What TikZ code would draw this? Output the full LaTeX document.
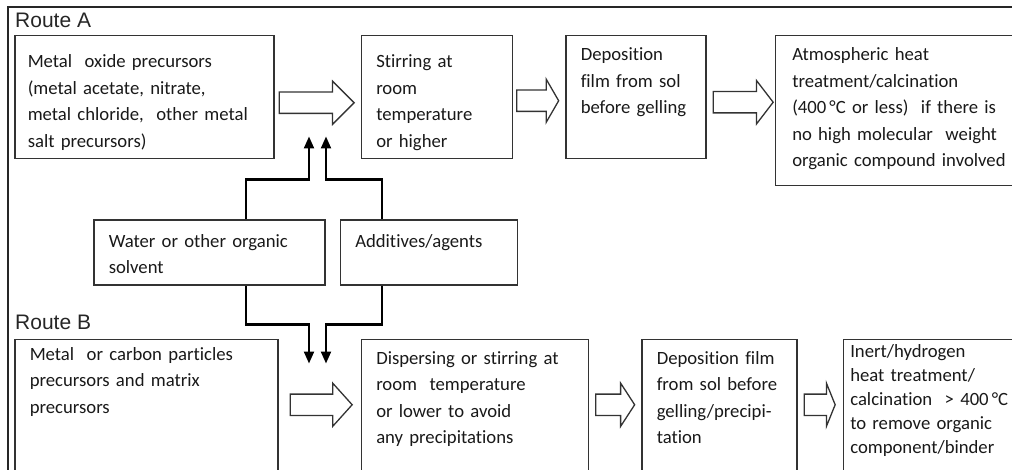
\documentclass[tikz,border=0pt]{standalone}
\usepackage{fontspec}
\setmainfont[Ligatures=NoCommon]{Carlito}
\newfontfamily\routefont{Liberation Sans}
\usepackage{tikz}
\usetikzlibrary{shapes,arrows,arrows.meta,positioning,calc}
\usepackage{xcolor}
\tikzstyle{stepbox} = [rectangle, draw=black!80, line width=1.5pt, anchor=north west, align=left, inner xsep=15pt, inner ysep=4pt, text height=21pt, text=black!90, font=\fontsize{18.7}{26.5}\selectfont]
\tikzstyle{hollow} = [single arrow, draw=black!80, line width=1.3pt, fill=white, inner xsep=0pt, inner ysep=10pt, single arrow head extend=11pt, anchor=west]
\tikzstyle{feed} = [line width=2.2pt, -{Triangle[length=12pt,width=10pt]}]
\tikzstyle{route} = [anchor=west, inner sep=0pt, text=black!85, font=\routefont\fontsize{21}{22}\selectfont]

\begin{document}
\begin{tikzpicture}[x=1pt, y=-1pt]
    \useasboundingbox (0,0) rectangle (1012,470);
    % Frame
    \draw [line width=2pt, black!85] (8,7) rectangle (1040,490);

    % Route A
    \node (routeA) [route] at (15,20) {Route A};
    \node (oxide) [stepbox, inner xsep=13pt, text width=233pt, text height=28pt, text depth=87pt] at (14,35) {Metal\ \ oxide precursors\\(metal acetate, nitrate,\\metal chloride,\ \ other metal\\salt precursors)};
    \node (stirA) [stepbox, right=86pt of oxide.north east, anchor=north west, text width=121pt, text height=28pt, text depth=87pt] {Stirring at\\room\\temperature\\or higher};
    \node (depA) [stepbox, right=52pt of stirA.north east, anchor=north west, text width=110pt, text depth=94pt] {Deposition\\film from sol\\before gelling};
    \node (heatA) [stepbox, right=68pt of depA.north east, anchor=north west, inner xsep=17pt, text width=236pt, text depth=121pt] {Atmospheric heat\\treatment/calcination\\(400\,°C or less)\ \ if there is\\no high molecular\ \ weight\\organic compound involved};

    % Additions
    \node (water) [stepbox, below right=60pt and 79pt of oxide.south west, anchor=north west, text width=201pt, text height=23pt, text depth=34pt] {Water or other organic\\solvent};
    \node (additive) [stepbox, right=14pt of water.north east, anchor=north west, text width=147pt, text height=23pt, text depth=34pt] {Additives/agents};

    % Route B
    \node (routeB) [route] at (15,322) {Route B};
    \node (particle) [stepbox, below=179pt of oxide.south west, anchor=north west, text width=233pt, text height=17pt, text depth=106pt] {Metal\ \ or carbon particles\\precursors and matrix\\precursors};
    \node (disperse) [stepbox, right=82pt of particle.north east, anchor=north west, text width=197pt, text depth=102pt] {Dispersing or stirring at\\room\ \ temperature\\or lower to avoid\\any precipitations};
    \node (depB) [stepbox, right=52pt of disperse.north east, anchor=north west, text width=125pt, text depth=102pt] {Deposition film\\from sol before\\gelling/precipi-\\tation};
    \node (heatB) [stepbox, right=45pt of depB.north east, anchor=north west, inner xsep=7pt, text width=186pt, text height=14pt, text depth=109pt, font=\fontsize{18.7}{24}\selectfont] {Inert/hydrogen\\heat treatment/\\calcination\ \ > 400\,°C\\to remove organic\\component/binder};

    % Hollow arrows
    \node (arrA1) [hollow, minimum height=75pt, single arrow tip angle=90, right=4pt of oxide, yshift=-5.5pt] {};
    \node (arrA2) [hollow, minimum height=42pt, single arrow tip angle=120, right=3pt of stirA, yshift=-3.5pt] {};
    \node (arrA3) [hollow, minimum height=60pt, single arrow tip angle=105, right=6pt of depA, yshift=-5pt] {};
    \node (arrB1) [hollow, minimum height=62pt, single arrow tip angle=96, right=11pt of particle] {};
    \node (arrB2) [hollow, minimum height=39pt, single arrow tip angle=114, right=6pt of disperse] {};
    \node (arrB3) [hollow, minimum height=31pt, single arrow tip angle=136, right=6pt of depB] {};

    % Feed lines
    \coordinate (tipA1) at ($(oxide.south east)!.5!(stirA.south west)+(-8.5,-23)$);
    \coordinate (tipA2) at ($(tipA1)+(17,0)$);
    \coordinate (tipB1) at ($(tipA1 |- particle.north)+(0,25)$);
    \coordinate (tipB2) at ($(tipB1)+(17,0)$);
    \draw [feed] ($(water.north)+(36.5,0)$) |- ($(tipA1)+(0,43)$) -- (tipA1);
    \draw [feed] ($(additive.north)+(-46.5,0)$) |- ($(tipA2)+(0,43)$) -- (tipA2);
    \draw [feed] ($(water.south)+(36.5,0)$) |- ($(tipB1)+(0,-39)$) -- (tipB1);
    \draw [feed] ($(additive.south)+(-46.5,0)$) |- ($(tipB2)+(0,-39)$) -- (tipB2);

\end{tikzpicture}
\end{document}
